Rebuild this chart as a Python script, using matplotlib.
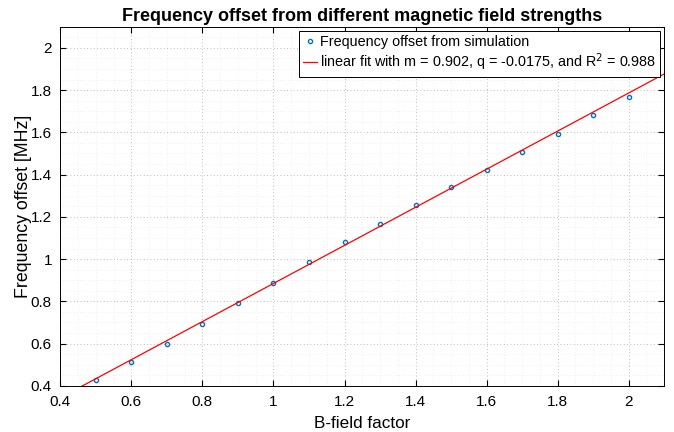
import numpy as np
from matplotlib import pyplot as plt
from matplotlib.ticker import MultipleLocator

b_factor = [0.5, 0.6, 0.7, 0.8, 0.9, 1.0, 1.1, 1.2, 1.3, 1.4, 1.5, 1.6, 1.7, 1.8, 1.9, 2.0]
freq_offset = [0.427, 0.512, 0.596, 0.694, 0.792, 0.889, 0.985, 1.083, 1.167, 1.254,
               1.339, 1.424, 1.509, 1.594, 1.682, 1.768]
m, q, r2 = 0.902, -0.0175, 0.988
tick_vals = [0.4, 0.6, 0.8, 1.0, 1.2, 1.4, 1.6, 1.8, 2.0]
tick_labels = ['0.4', '0.6', '0.8', '1', '1.2', '1.4', '1.6', '1.8', '2']

plt.rcParams['font.family'] = ['Liberation Sans', 'DejaVu Sans']

fig = plt.figure(figsize=(6.74, 4.32), dpi=100)
ax = fig.add_axes([0.0895, 0.107, 0.896, 0.831])

ax.plot(b_factor, freq_offset, 'o', markersize=3, markerfacecolor='none',
        markeredgecolor='#0072BD', markeredgewidth=1.0,
        label='Frequency offset from simulation')
xfit = np.array([0.4, 2.1])
ax.plot(xfit, m * xfit + q, color='red', linewidth=0.9,
        label='linear fit with m = %.3f, q = %.4f, and R$^2$ = %.3f' % (m, q, r2))

ax.set_xlim(0.4, 2.1)
ax.set_ylim(0.4, 2.1)
ax.set_xticks(tick_vals)
ax.set_xticklabels(tick_labels)
ax.set_yticks(tick_vals)
ax.set_yticklabels(tick_labels)
ax.xaxis.set_minor_locator(MultipleLocator(0.05))
ax.yaxis.set_minor_locator(MultipleLocator(0.05))

# matlab-ish faint dotted grid
ax.grid(which='major', linestyle=(0, (1, 3)), color='#a8a8a8', linewidth=0.6)
ax.grid(which='minor', linestyle=(0, (1, 3)), color='#e2e2e2', linewidth=0.5)
ax.tick_params(which='both', direction='in', top=True, right=True, labelsize=11)
ax.tick_params(axis='x', which='major', length=4, pad=7)
ax.tick_params(axis='y', which='major', length=4, pad=6)
ax.tick_params(which='minor', length=0)
for s in ax.spines.values():
    s.set_linewidth(0.7)

ax.set_xlabel('B-field factor', fontsize=12.3, labelpad=5)
ax.set_ylabel('Frequency offset [MHz]', fontsize=12.8, labelpad=-0.5)
ax.set_title('Frequency offset from different magnetic field strengths',
             fontsize=13, fontweight='bold', pad=4)

leg = ax.legend(loc='upper right', fontsize=10.4, fancybox=False, framealpha=1,
                edgecolor='black', borderpad=0.25, labelspacing=0.2,
                handlelength=1.0, handletextpad=0.2, borderaxespad=0.3)
leg.get_frame().set_linewidth(0.7)

plt.savefig('out.png', dpi=100)
